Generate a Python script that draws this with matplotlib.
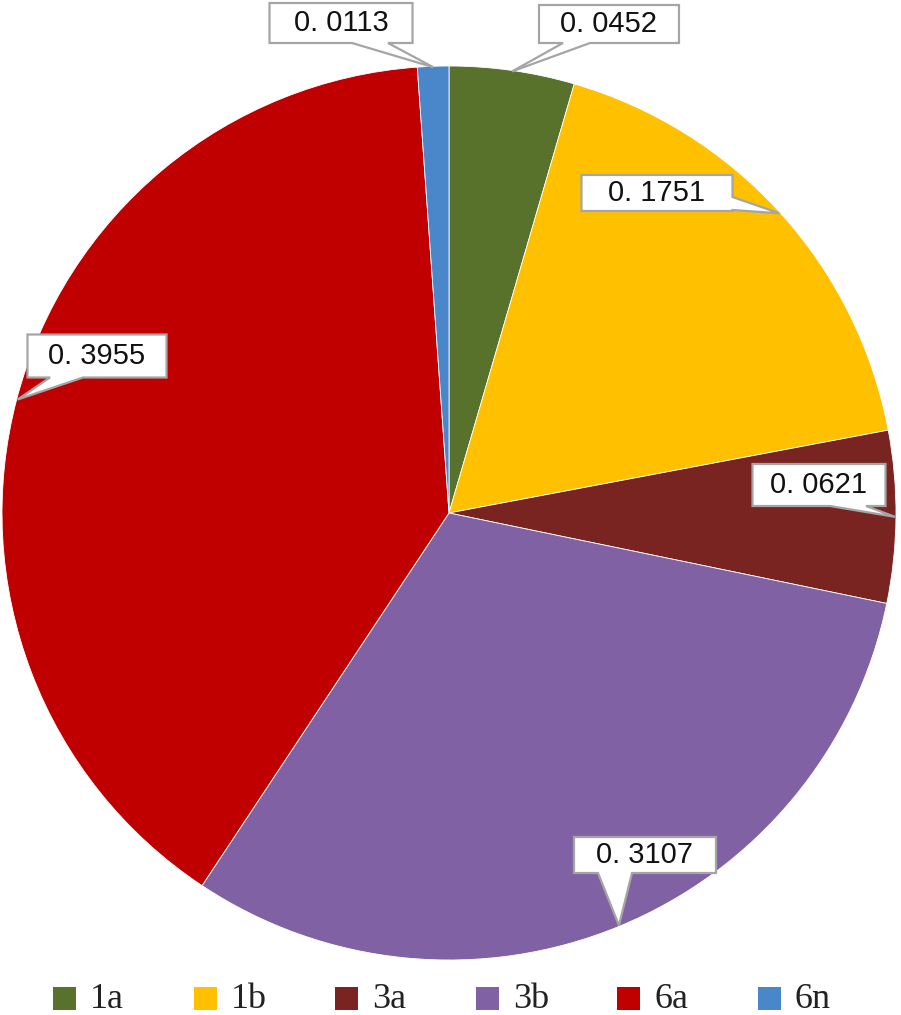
import numpy as np
import matplotlib
matplotlib.use("Agg")
import matplotlib.pyplot as plt
from matplotlib.patches import Polygon, Rectangle

# ---- data ----
categories = ["1a", "1b", "3a", "3b", "6a", "6n"]
values = [0.0452, 0.1751, 0.0621, 0.3107, 0.3955, 0.0113]
labels = ["0. 0452", "0. 1751", "0. 0621", "0. 3107", "0. 3955", "0. 0113"]
colors = ["#58712B", "#FFC000", "#7A2422", "#8062A4", "#C00000", "#4A86CA"]

W, H = 901, 1015
fig = plt.figure(figsize=(W / 100, H / 100), dpi=100)
ax = fig.add_axes([0, 0, 1, 1])

cx, cy_px, R = 449, 513, 447
cy = H - cy_px

wedges, _ = ax.pie(values, colors=colors, startangle=90, counterclock=False,
                   center=(cx, cy), radius=R, frame=True,
                   wedgeprops=dict(edgecolor="white", linewidth=0.6))
ax.set_xlim(0, W)
ax.set_ylim(0, H)
ax.set_aspect("equal")
ax.axis("off")

# callout layout (pixel coords, y down): box center, width, height, edge, base range
layout = {
    "1a": ((609, 24), 140, 38, "bottom", (563, 590)),
    "1b": ((657, 193), 151, 36, "right", (197, 210)),
    "3a": ((819, 485), 133, 42, "bottom", (830, 866)),
    "3b": ((645, 855), 142, 36, "bottom", (598, 632)),
    "6a": ((97, 356), 139, 43, "bottom", (50, 83)),
    "6n": ((341, 23), 143, 40, "bottom", (352, 388)),
}

for w, cat, lab in zip(wedges, categories, labels):
    mid = np.deg2rad((w.theta1 + w.theta2) / 2)
    tipx = cx + R * 0.998 * np.cos(mid)
    tipy = cy + R * 0.998 * np.sin(mid)
    tip_px = (tipx, H - tipy)
    (bx, by), bw, bh, edge, (b0, b1) = layout[cat]
    x0, x1 = bx - bw / 2, bx + bw / 2
    y0, y1 = by - bh / 2, by + bh / 2
    if edge == "bottom":
        pts = [(x0, y0), (x1, y0), (x1, y1), (b1, y1), tip_px, (b0, y1), (x0, y1)]
    else:
        pts = [(x0, y0), (x1, y0), (x1, b0), tip_px, (x1, b1), (x1, y1), (x0, y1)]
    pts = [(px, H - py) for px, py in pts]
    ax.add_patch(Polygon(pts, closed=True, facecolor="white", edgecolor="#A5A5A5",
                         linewidth=1.6, joinstyle="miter", zorder=5))
    ax.text(bx, H - by, lab, ha="center", va="center", fontsize=21,
            family="Liberation Sans", color="#111111", zorder=6)

# legend
for i, (cat, col) in enumerate(zip(categories, colors)):
    lx = 53 + 141 * i
    ax.add_patch(Rectangle((lx, H - 1010), 23, 23, facecolor=col, edgecolor="none", zorder=5))
    ax.text(lx + 37, H - 999, cat, ha="left", va="center", fontsize=26,
            family="Liberation Serif", color="#222222", zorder=6)

fig.savefig("out.png", dpi=100)
